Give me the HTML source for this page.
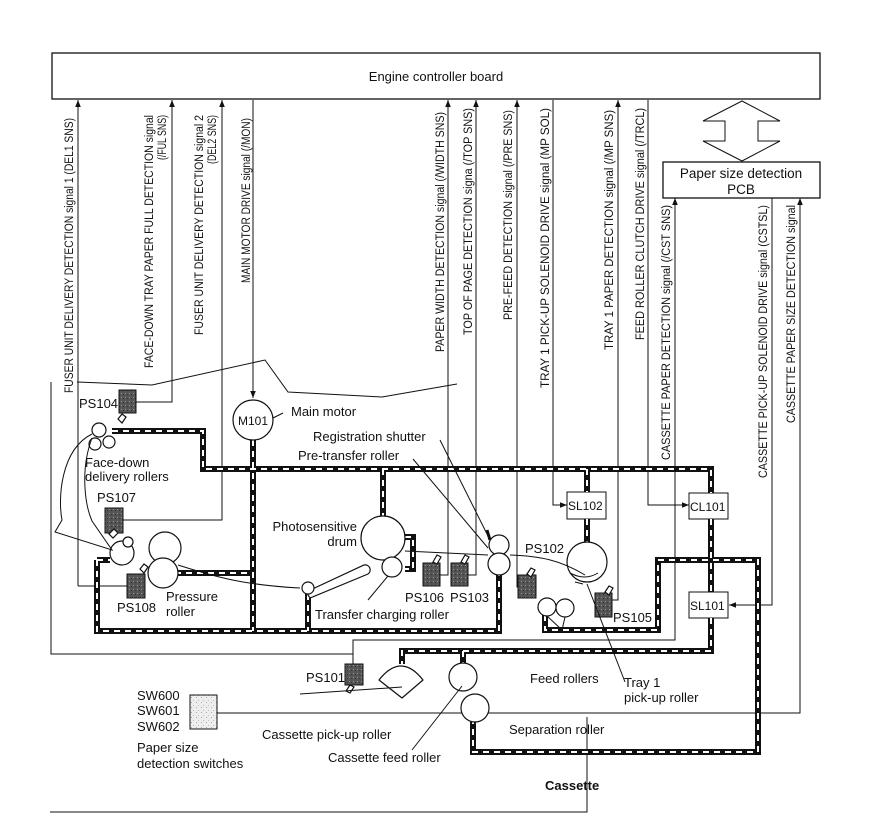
<!DOCTYPE html>
<html><head><meta charset="utf-8"><style>
html,body{margin:0;padding:0;background:#fff;}
svg{display:block;font-family:"Liberation Sans",Arial,sans-serif;}
</style></head><body>
<svg width="880" height="836" viewBox="0 0 880 836" xmlns="http://www.w3.org/2000/svg">
<defs>
<marker id="a" viewBox="0 0 10 10" refX="10" refY="5" markerWidth="7" markerHeight="7" orient="auto"><path d="M0,1 L10,5 L0,9 z" fill="#111"/></marker>
<pattern id="st" width="4" height="4" patternUnits="userSpaceOnUse"><rect width="4" height="4" fill="#555"/><rect x="1" y="1" width="1" height="1" fill="#999"/><rect x="3" y="2" width="1" height="1" fill="#333"/></pattern>
<pattern id="st2" width="5" height="5" patternUnits="userSpaceOnUse"><rect width="5" height="5" fill="#eee"/><rect x="1" y="2" width="1" height="1" fill="#aaa"/><rect x="3" y="0" width="1" height="1" fill="#bbb"/></pattern>
<path id="drv" d="M112,431 H203 V469 H711 V493 M253,440 V631 M383,469 V516 M587,469 V492 M587,519 V542 M97,560 H110 M97,560 V631 H499 V574 M175,573 H253 M308,594 V631 M545,615 V630 H658 V560 H758 V752 H473 V722 M711,519 V592 M711,618 V651 H402 V664 M463,651 V663 M405,537 H413 V569 H405"/>
</defs>
<g fill="none" stroke="#111" stroke-width="1">
<rect x="52" y="53" width="768" height="46" stroke-width="1.3"/>
<rect x="663" y="162" width="157" height="36" stroke-width="1.3"/>
<path d="M742,101 L703,121 L725,121 L725,141 L703,141 L742,161 L780,141 L758,141 L758,121 L780,121 Z"/>
<path d="M78,586 V100" marker-end="url(#a)"/>
<path d="M78,586 H128"/>
<path d="M136,402 H172 V100" marker-end="url(#a)"/>
<path d="M123,520 H222 V100" marker-end="url(#a)"/>
<path d="M253,100 V398" marker-end="url(#a)"/>
<path d="M440,575 H448 V100" marker-end="url(#a)"/>
<path d="M468,575 H476 V100" marker-end="url(#a)"/>
<path d="M518,587 H517 V100" marker-end="url(#a)"/>
<path d="M553,100 V505 H567" marker-end="url(#a)"/>
<path d="M612,600 H618 V100" marker-end="url(#a)"/>
<path d="M648,100 V505 H689" marker-end="url(#a)"/>
<path d="M353,664 V640 H675 V198" marker-end="url(#a)"/>
<path d="M772,198 V605 H729" marker-end="url(#a)"/>
<path d="M217,713 H800 V198" marker-end="url(#a)"/>
<path d="M51,382 V654 H353"/>
<path d="M77,382 L152,385 L265,360 L288,392 L382,397 L457,384"/>
<path d="M587,717 V812 H50"/>
<rect x="567" y="492" width="39" height="27" fill="#fff"/>
<rect x="689" y="493" width="39" height="26" fill="#fff"/>
<rect x="689" y="592" width="39" height="26" fill="#fff"/>
<rect x="190" y="695" width="27" height="34" fill="url(#st2)"/>
</g>
<use href="#drv" fill="none" stroke="#111" stroke-width="6" stroke-linejoin="miter"/>
<use href="#drv" fill="none" stroke="#fff" stroke-width="2" stroke-dasharray="6 5"/>
<g fill="none" stroke="#111" stroke-width="1">
<g fill="url(#st)">
<rect x="119" y="390" width="17" height="23"/>
<rect x="105" y="508" width="18" height="25"/>
<rect x="127" y="574" width="18" height="24"/>
<rect x="423" y="563" width="17" height="23"/>
<rect x="451" y="563" width="17" height="23"/>
<rect x="518" y="575" width="18" height="23"/>
<rect x="595" y="593" width="17" height="24"/>
<rect x="345" y="664" width="18" height="21"/>
</g>
<g fill="#fff" stroke-width="1.2">
<path d="M118,419 l4,-5 l4,3 l-4,6 z M109,534 l5,-5 l4,4 l-5,5 z M140,569 l4,-5 l4,3 l-4,6 z M433,562 l4,-7 l4,2 l-4,7 z M461,562 l4,-7 l4,2 l-4,7 z M527,574 l4,-6 l4,2 l-4,7 z M605,592 l4,-6 l4,2 l-4,7 z M350,685 l-4,6 l4,2 l4,-6 z"/>
<circle cx="253" cy="420" r="20"/>
<circle cx="99" cy="430" r="7"/><circle cx="95" cy="444" r="6"/><circle cx="109" cy="442" r="6"/>
<circle cx="122" cy="553" r="12"/><circle cx="128" cy="542" r="5"/>
<circle cx="165" cy="548" r="16"/><circle cx="163" cy="573" r="15"/>
<circle cx="383" cy="538" r="22"/><circle cx="392" cy="567" r="10"/>
<path d="M306,592 L364,565 a5,5 0 0 1 4,9 L310,598 z"/>
<circle cx="308" cy="588" r="6"/>
<circle cx="499" cy="545" r="10"/><circle cx="499" cy="564" r="11"/>
<circle cx="587" cy="562" r="20"/>
<circle cx="547" cy="607" r="9"/><circle cx="565" cy="608" r="9"/>
<path d="M379,680 L402,698 L423,680 Q401,652 379,680 Z" stroke-linejoin="round"/>
<circle cx="463" cy="677" r="14"/><circle cx="475" cy="708" r="14"/>
</g>
<path d="M92,434 C60,450 58,500 62,520 L55,532 L112,550 L92,521 C85,505 80,470 92,438"/>
<path d="M178,565 C210,575 240,585 300,588"/>
<path d="M405,551 L488,555"/>
<path d="M510,555 C540,556 560,560 585,575"/>
<path d="M490,540 l-3,-10" stroke-width="3"/>
<path d="M570,573 q15,8 28,0 M575,582 l8,2"/>
<path d="M283,413 L273,418 M440,440 L490,540 M413,459 L488,548 M562,630 L547,616 M562,630 L565,617 M625,682 L587,584 M388,576 L368,600 M300,694 L402,687 M412,750 L462,686"/>
</g>
<g font-size="13" fill="#111">
<text x="436" y="81" text-anchor="middle" font-size="13">Engine controller board</text>
<text x="741" y="178" text-anchor="middle" font-size="13.5">Paper size detection</text>
<text x="741" y="194" text-anchor="middle" font-size="13.5">PCB</text>
<text x="253" y="425" text-anchor="middle" font-size="12">M101</text>
<text x="291" y="416">Main motor</text>
<text x="313" y="441">Registration shutter</text>
<text x="298" y="460">Pre-transfer roller</text>
<text x="79" y="408">PS104</text>
<text x="85" y="467">Face-down</text>
<text x="85" y="481">delivery rollers</text>
<text x="97" y="502">PS107</text>
<text x="117" y="612">PS108</text>
<text x="166" y="601">Pressure</text>
<text x="166" y="616">roller</text>
<text x="357" y="531" text-anchor="end">Photosensitive</text>
<text x="357" y="546" text-anchor="end">drum</text>
<text x="315" y="619">Transfer charging roller</text>
<text x="405" y="602">PS106</text>
<text x="450" y="602">PS103</text>
<text x="525" y="553">PS102</text>
<text x="613" y="622">PS105</text>
<text x="568" y="510" font-size="12">SL102</text>
<text x="690" y="511" font-size="12">CL101</text>
<text x="690" y="610" font-size="12">SL101</text>
<text x="306" y="682">PS101</text>
<text x="530" y="683">Feed rollers</text>
<text x="624" y="687">Tray 1</text>
<text x="624" y="702">pick-up roller</text>
<text x="137" y="700">SW600</text>
<text x="137" y="715">SW601</text>
<text x="137" y="731">SW602</text>
<text x="137" y="752">Paper size</text>
<text x="137" y="768">detection switches</text>
<text x="262" y="739">Cassette pick-up roller</text>
<text x="328" y="762">Cassette feed roller</text>
<text x="509" y="734">Separation roller</text>
<text x="545" y="790" font-weight="bold">Cassette</text>
</g>
<g font-size="11.5" fill="#111">
<text transform="translate(73,393) rotate(-90)" textLength="275" lengthAdjust="spacingAndGlyphs">FUSER UNIT DELIVERY DETECTION signal 1 (DEL1 SNS)</text>
<text transform="translate(153,368) rotate(-90)" textLength="253" lengthAdjust="spacingAndGlyphs">FACE-DOWN TRAY PAPER FULL DETECTION signal</text>
<text transform="translate(166,160) rotate(-90)" textLength="45" lengthAdjust="spacingAndGlyphs">(/FUL SNS)</text>
<text transform="translate(203,335) rotate(-90)" textLength="220" lengthAdjust="spacingAndGlyphs">FUSER UNIT DELIVERY DETECTION signal 2</text>
<text transform="translate(216,164) rotate(-90)" textLength="49" lengthAdjust="spacingAndGlyphs">(DEL2 SNS)</text>
<text transform="translate(250,283) rotate(-90)" textLength="165" lengthAdjust="spacingAndGlyphs">MAIN MOTOR DRIVE signal (/MON)</text>
<text transform="translate(444,352) rotate(-90)" textLength="240" lengthAdjust="spacingAndGlyphs">PAPER WIDTH DETECTION signal (/WIDTH SNS)</text>
<text transform="translate(472,335) rotate(-90)" textLength="227" lengthAdjust="spacingAndGlyphs">TOP OF PAGE DETECTION signa (/TOP SNS)</text>
<text transform="translate(512,320) rotate(-90)" textLength="210" lengthAdjust="spacingAndGlyphs">PRE-FEED DETECTION signal (/PRE SNS)</text>
<text transform="translate(549,388) rotate(-90)" textLength="280" lengthAdjust="spacingAndGlyphs">TRAY 1  PICK-UP SOLENOID DRIVE signal (MP SOL)</text>
<text transform="translate(613,350) rotate(-90)" textLength="240" lengthAdjust="spacingAndGlyphs">TRAY 1  PAPER DETECTION signal (/MP SNS)</text>
<text transform="translate(644,340) rotate(-90)" textLength="232" lengthAdjust="spacingAndGlyphs">FEED ROLLER CLUTCH DRIVE signal (/TRCL)</text>
<text transform="translate(670,460) rotate(-90)" textLength="255" lengthAdjust="spacingAndGlyphs">CASSETTE PAPER DETECTION signal (/CST SNS)</text>
<text transform="translate(767,478) rotate(-90)" textLength="273" lengthAdjust="spacingAndGlyphs">CASSETTE PICK-UP SOLENOID DRIVE signal (CSTSL)</text>
<text transform="translate(795,423) rotate(-90)" textLength="218" lengthAdjust="spacingAndGlyphs">CASSETTE PAPER SIZE DETECTION signal</text>
</g>
</svg>
</body></html>
